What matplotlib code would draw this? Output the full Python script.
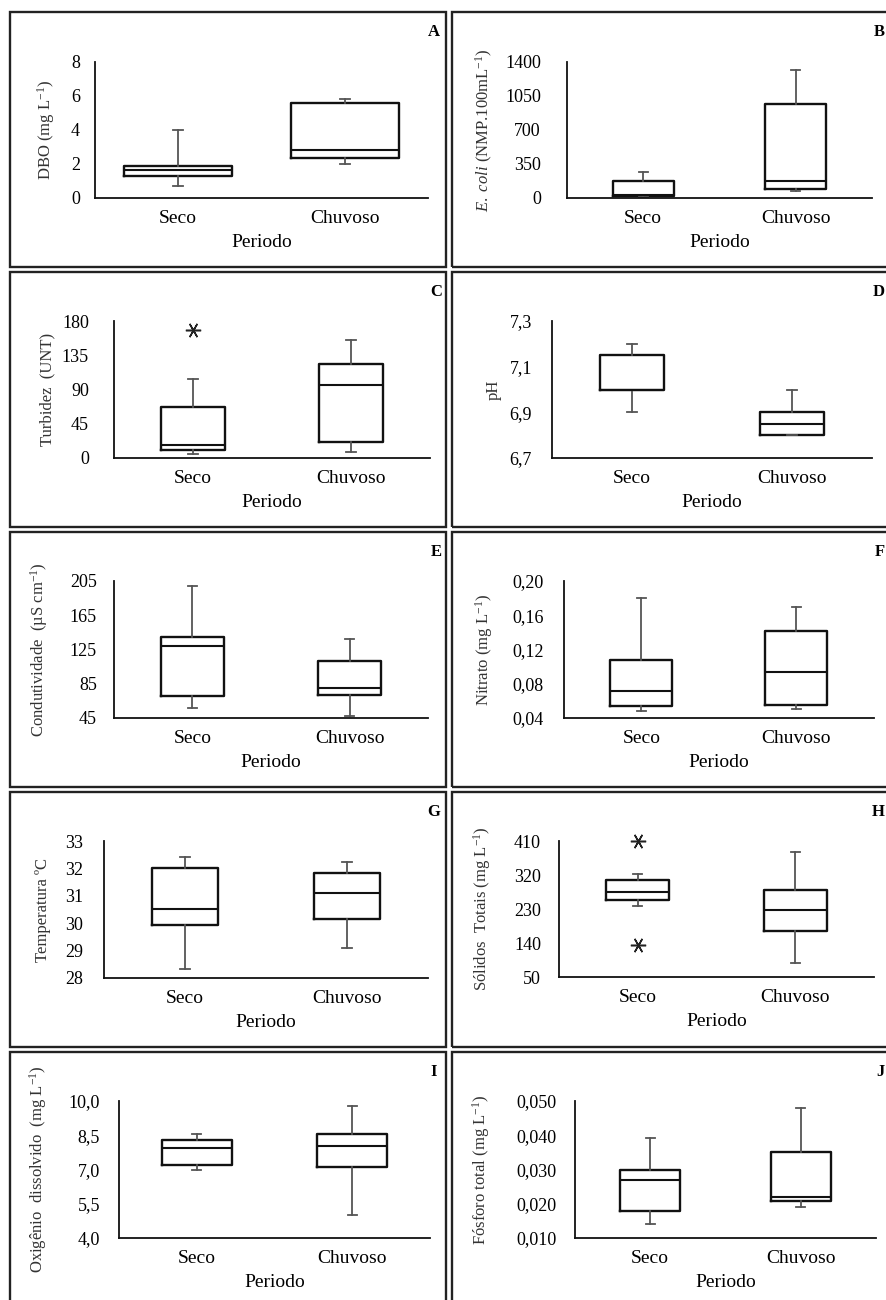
import matplotlib
matplotlib.use("Agg")
import matplotlib.pyplot as plt
from matplotlib.patches import Rectangle

plt.rcParams['font.family'] = ['Liberation Serif', 'DejaVu Serif']
plt.rcParams['mathtext.fontset'] = 'custom'
plt.rcParams['mathtext.rm'] = 'Liberation Serif'
plt.rcParams['mathtext.it'] = 'Liberation Serif:italic'

# ---- data: (whislo, q1, median, q3, whishi) per period ----
periods = ["Seco", "Chuvoso"]
letters = ["A", "B", "C", "D", "E", "F", "G", "H", "I", "J"]

dbo_seco = [0.7, 1.27, 1.67, 1.9, 4.0]
dbo_chuv = [1.98, 2.37, 2.82, 5.59, 5.84]

ecoli_seco = [10, 24, 32, 175, 268]
ecoli_chuv = [72, 96, 175, 964, 1314]

turb_seco = [5.7, 10, 17.6, 67, 103.6]
turb_chuv = [8.3, 20.6, 95.7, 124, 155]
turb_seco_out = [168]

ph_seco = [6.9, 7.0, 7.0, 7.15, 7.2]
ph_chuv = [6.8, 6.8, 6.85, 6.9, 7.0]

cond_seco = [57.1, 70.8, 129.3, 139.8, 198.8]
cond_chuv = [47.7, 71.9, 80.1, 111.7, 137.5]

nit_seco = [0.0478, 0.0537, 0.072, 0.108, 0.1805]
nit_chuv = [0.0509, 0.0552, 0.0935, 0.142, 0.170]

temp_seco = [28.34, 29.93, 30.51, 32.0, 32.43]
temp_chuv = [29.11, 30.15, 31.10, 31.84, 32.22]

sol_seco = [238, 254, 275.5, 307, 322]
sol_chuv = [88, 173, 227, 281, 380]
sol_seco_out = [410, 136]

od_seco = [7.0, 7.19, 7.95, 8.30, 8.54]
od_chuv = [5.01, 7.10, 8.05, 8.54, 9.77]

fos_seco = [0.0141, 0.018, 0.027, 0.030, 0.0393]
fos_chuv = [0.019, 0.0209, 0.022, 0.035, 0.0481]

ticks_A = [0, 2, 4, 6, 8]
ticks_B = [0, 350, 700, 1050, 1400]
ticks_C = [0, 45, 90, 135, 180]
ticks_D = [6.7, 6.9, 7.1, 7.3]
ticks_E = [45, 85, 125, 165, 205]
ticks_F = [0.04, 0.08, 0.12, 0.16, 0.20]
ticks_G = [28, 29, 30, 31, 32, 33]
ticks_H = [50, 140, 230, 320, 410]
ticks_I = [4.0, 5.5, 7.0, 8.5, 10.0]
ticks_J = [0.010, 0.020, 0.030, 0.040, 0.050]

labels_A = ["0", "2", "4", "6", "8"]
labels_B = ["0", "350", "700", "1050", "1400"]
labels_C = ["0", "45", "90", "135", "180"]
labels_D = ["6,7", "6,9", "7,1", "7,3"]
labels_E = ["45", "85", "125", "165", "205"]
labels_F = ["0,04", "0,08", "0,12", "0,16", "0,20"]
labels_G = ["28", "29", "30", "31", "32", "33"]
labels_H = ["50", "140", "230", "320", "410"]
labels_I = ["4,0", "5,5", "7,0", "8,5", "10,0"]
labels_J = ["0,010", "0,020", "0,030", "0,040", "0,050"]

ylabels = [
    r"DBO (mg L$^{-1}$)",
    r"$\mathit{E.\ coli}$ (NMP.100mL$^{-1}$)",
    "Turbidez  (UNT)",
    "pH",
    r"Condutividade  (µS cm$^{-1}$)",
    r"Nitrato (mg L$^{-1}$)",
    "Temperatura ºC",
    r"Sólidos  Totais (mg L$^{-1}$)",
    r"Oxigênio  dissolvido  (mg L$^{-1}$)",
    r"Fósforo total (mg L$^{-1}$)",
]

panels = [
    (dbo_seco, dbo_chuv, [], ticks_A, labels_A),
    (ecoli_seco, ecoli_chuv, [], ticks_B, labels_B),
    (turb_seco, turb_chuv, turb_seco_out, ticks_C, labels_C),
    (ph_seco, ph_chuv, [], ticks_D, labels_D),
    (cond_seco, cond_chuv, [], ticks_E, labels_E),
    (nit_seco, nit_chuv, [], ticks_F, labels_F),
    (temp_seco, temp_chuv, [], ticks_G, labels_G),
    (sol_seco, sol_chuv, sol_seco_out, ticks_H, labels_H),
    (od_seco, od_chuv, [], ticks_I, labels_I),
    (fos_seco, fos_chuv, [], ticks_J, labels_J),
]

# ---- layout in pixels ----
W, H = 887, 1300
fig = plt.figure(figsize=(W / 100, H / 100), dpi=100)
fig.patch.set_facecolor("white")

# frame boxes (x0, y0, x1, y1)
frames = [
    (10, 12, 446, 267), (452, 12, 892, 267),
    (10, 272, 446, 527), (452, 272, 892, 527),
    (10, 532, 446, 787), (452, 532, 892, 787),
    (10, 792, 446, 1047), (452, 792, 892, 1047),
    (10, 1052, 446, 1305), (452, 1052, 892, 1305),
]
# axes rectangles (x0, x1, ytop, ybottom)
axes_px = [
    (95, 428, 62, 198), (567, 872, 62, 198),
    (114, 430, 321, 458), (552, 872, 321, 458),
    (114, 428, 581, 718), (564, 874, 581, 718),
    (104, 428, 841, 978), (559, 874, 841, 977),
    (119, 430, 1101, 1238), (575, 876, 1101, 1238),
]
ylabel_x = [46, 484, 47, 494, 39, 484, 43, 482, 38, 481]
ytick_pad_px = [15, 26, 25, 20, 17, 20, 21, 18, 19, 18]
box_widths = [0.65, 0.40, 0.40, 0.40, 0.40, 0.40, 0.41, 0.40, 0.45, 0.40]
letter_right = [440, 885, 442, 885, 442, 885, 440, 885, 437, 885]

for (fx0, fy0, fx1, fy1) in frames:
    fig.patches.append(Rectangle((fx0 / W, 1 - fy1 / H), (fx1 - fx0) / W, (fy1 - fy0) / H,
                                 transform=fig.transFigure, fill=False,
                                 edgecolor="#222222", linewidth=1.7))

for i, (seco, chuv, outs, ticks, tlabels) in enumerate(panels):
    x0, x1, yt, yb = axes_px[i]
    ax = fig.add_axes([x0 / W, 1 - yb / H, (x1 - x0) / W, (yb - yt) / H])
    stats = []
    for vals, fl in ((seco, outs), (chuv, [])):
        stats.append(dict(whislo=vals[0], q1=vals[1], med=vals[2], q3=vals[3],
                          whishi=vals[4], fliers=fl))
    art = ax.bxp(stats, positions=[1, 2], widths=box_widths[i], capwidths=0.06,
                 showfliers=True, patch_artist=False,
                 boxprops=dict(color="#111111", linewidth=1.7),
                 medianprops=dict(color="#111111", linewidth=1.5),
                 whiskerprops=dict(color="#555555", linewidth=1.3),
                 capprops=dict(color="#555555", linewidth=1.3),
                 flierprops=dict(marker=(6, 2, 90), markersize=11,
                                 markeredgecolor="#222222",
                                 markeredgewidth=1.1, linestyle="none"))
    for f in art["fliers"]:
        f.set_clip_on(False)
    ax.set_xlim(0.5, 2.5)
    ax.set_ylim(ticks[0], ticks[-1])
    ax.set_yticks(ticks)
    ax.set_yticklabels(tlabels, fontsize=13)
    ax.set_xticks([1, 2])
    ax.set_xticklabels(periods, fontsize=14)
    ax.tick_params(axis="both", length=0)
    ax.tick_params(axis="y", pad=ytick_pad_px[i] * 0.72)
    ax.tick_params(axis="x", pad=8.5)
    for s in ("top", "right"):
        ax.spines[s].set_visible(False)
    for s in ("left", "bottom"):
        ax.spines[s].set_color("#111111")
        ax.spines[s].set_linewidth(1.3)
    ax.set_xlabel("Periodo", fontsize=14, labelpad=5)
    # y label
    yc = (yt + yb) / 2
    fig.text(ylabel_x[i] / W, 1 - yc / H, ylabels[i], rotation=90,
             ha="center", va="center", fontsize=12, color="#333333")
    # panel letter
    fx0, fy0, fx1, fy1 = frames[i]
    fig.text(letter_right[i] / W, 1 - (fy0 + 20) / H, letters[i], ha="right",
             va="center", fontsize=12, fontweight="bold")

fig.savefig("out.png", dpi=100, facecolor="white")
